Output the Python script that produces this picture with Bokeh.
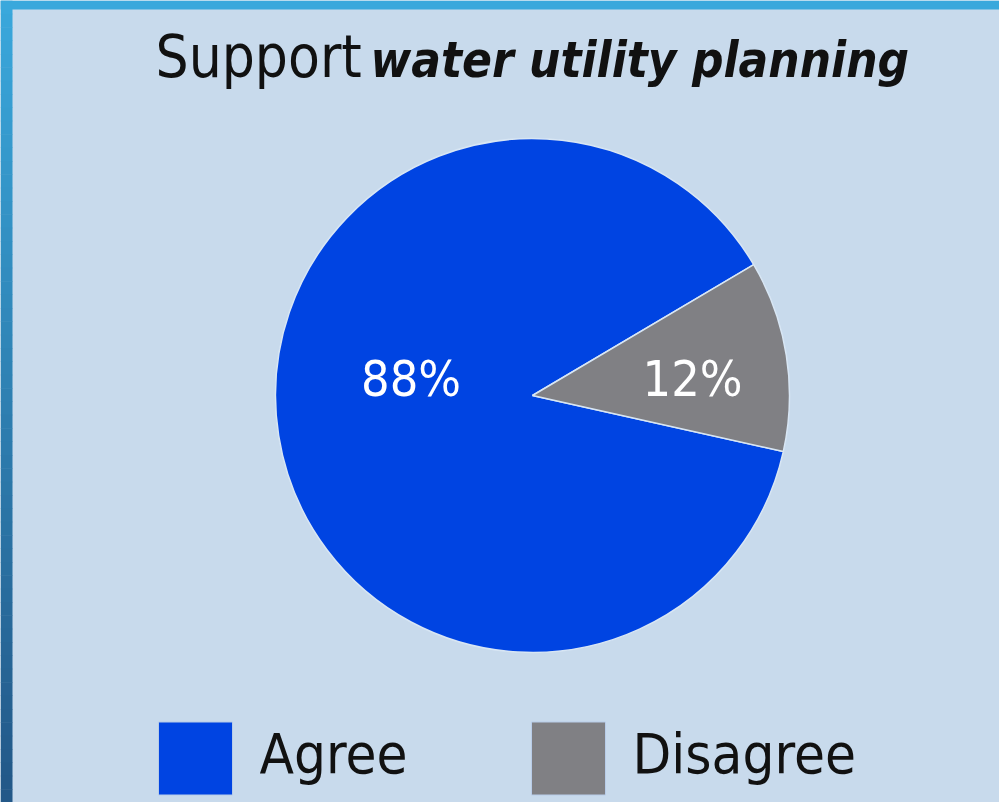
from bokeh.plotting import figure
from bokeh.models import Range1d, ColumnDataSource
from bokeh.core.properties import value
from bokeh.embed import file_html
from bokeh.resources import INLINE
import numpy as np

# ---- data ----
categories = ["Agree", "Disagree"]
shares = [88, 12]
colors = ["#0044e2", "#808084"]
pct_labels = ["88%", "12%"]
title_plain = "Support"
title_bold = "water utility planning"

# ---- layout ----
W, H = 999, 802
BG = "#c8daec"
FONT = "'Liberation Sans Narrow', 'DejaVu Sans Condensed', sans-serif"
cx, cy, R = 532, 395, 257
start_deg = -12.6
SHIFT = 0.41  # empirical baseline correction (em)


def base(y, size):
    return y - SHIFT * size


p = figure(width=W, height=H, x_range=Range1d(0, W), y_range=Range1d(H, 0),
           output_backend="svg", toolbar_location=None, min_border=0,
           background_fill_color=BG, border_fill_color=BG,
           styles={"position": "absolute", "left": "0px", "top": "0px"})
p.axis.visible = False
p.grid.visible = False
p.outline_line_color = None

# frame strips
p.quad(left=[0], right=[W], top=[0], bottom=[9], color="#3aa8dc", line_color=None)
N = 60
ys = np.linspace(0, H, N + 1)
c0 = np.array([0x3a, 0xa8, 0xdc])
c1 = np.array([0x23, 0x58, 0x88])
cols = []
for i in range(N):
    t = i / (N - 1)
    c = (c0 * (1 - t) + c1 * t).astype(int)
    cols.append("#%02x%02x%02x" % tuple(c))
p.quad(left=0, right=12, top=ys[:-1], bottom=ys[1:] + 0.5, color=cols, line_color=None)

# pie wedges: Disagree starts at start angle, then Agree
fr = np.array(shares, dtype=float) / sum(shares)
s0 = np.radians(start_deg)
dis_start = s0
dis_end = s0 + fr[1] * 2 * np.pi
agr_start = dis_end
agr_end = s0 + 2 * np.pi
src = ColumnDataSource(dict(
    cat=categories, color=colors,
    start=[agr_start, dis_start], end=[agr_end, dis_end]))
p.wedge(x=cx, y=cy, radius=R, radius_units="screen", start_angle="start", end_angle="end",
        fill_color="color", line_color="#d8e6f4", line_width=1.5, source=src)

# percentage labels
mids = [(agr_start + agr_end) / 2, (dis_start + dis_end) / 2]
lab_r = [123, 162]
lx = [cx + r * np.cos(m) for r, m in zip(lab_r, mids)]
ps = 50
ly = [base(399, ps)] * 2
p.text(x=lx, y=ly, text=pct_labels, text_color="white", text_font=value(FONT),
       text_font_size=f"{ps}px", text_align="center", text_baseline="alphabetic")

# title
ts1, ts2 = 58, 49
p.text(x=[155], y=[base(80, ts1)], text=[title_plain], text_color="#111111",
       text_font=value(FONT), text_font_size=f"{ts1}px", text_align="left",
       text_baseline="alphabetic")
p.text(x=[370], y=[base(80, ts2)], text=[title_bold], text_color="#111111",
       text_font=value(FONT), text_font_size=f"{ts2}px", text_font_style="bold italic",
       text_align="left", text_baseline="alphabetic")

# legend
leg_x = [195, 568]
ls = 56
p.rect(x=leg_x, y=[758, 758], width=74, height=73, fill_color=colors,
       line_color="#b8cce8", line_width=1)
p.text(x=[x + 64 for x in leg_x], y=[base(776, ls)] * 2, text=categories,
       text_color="#111111", text_font=value(FONT), text_font_size=f"{ls}px",
       text_align="left", text_baseline="alphabetic")

open("out.html", "w").write(file_html(p, INLINE))
